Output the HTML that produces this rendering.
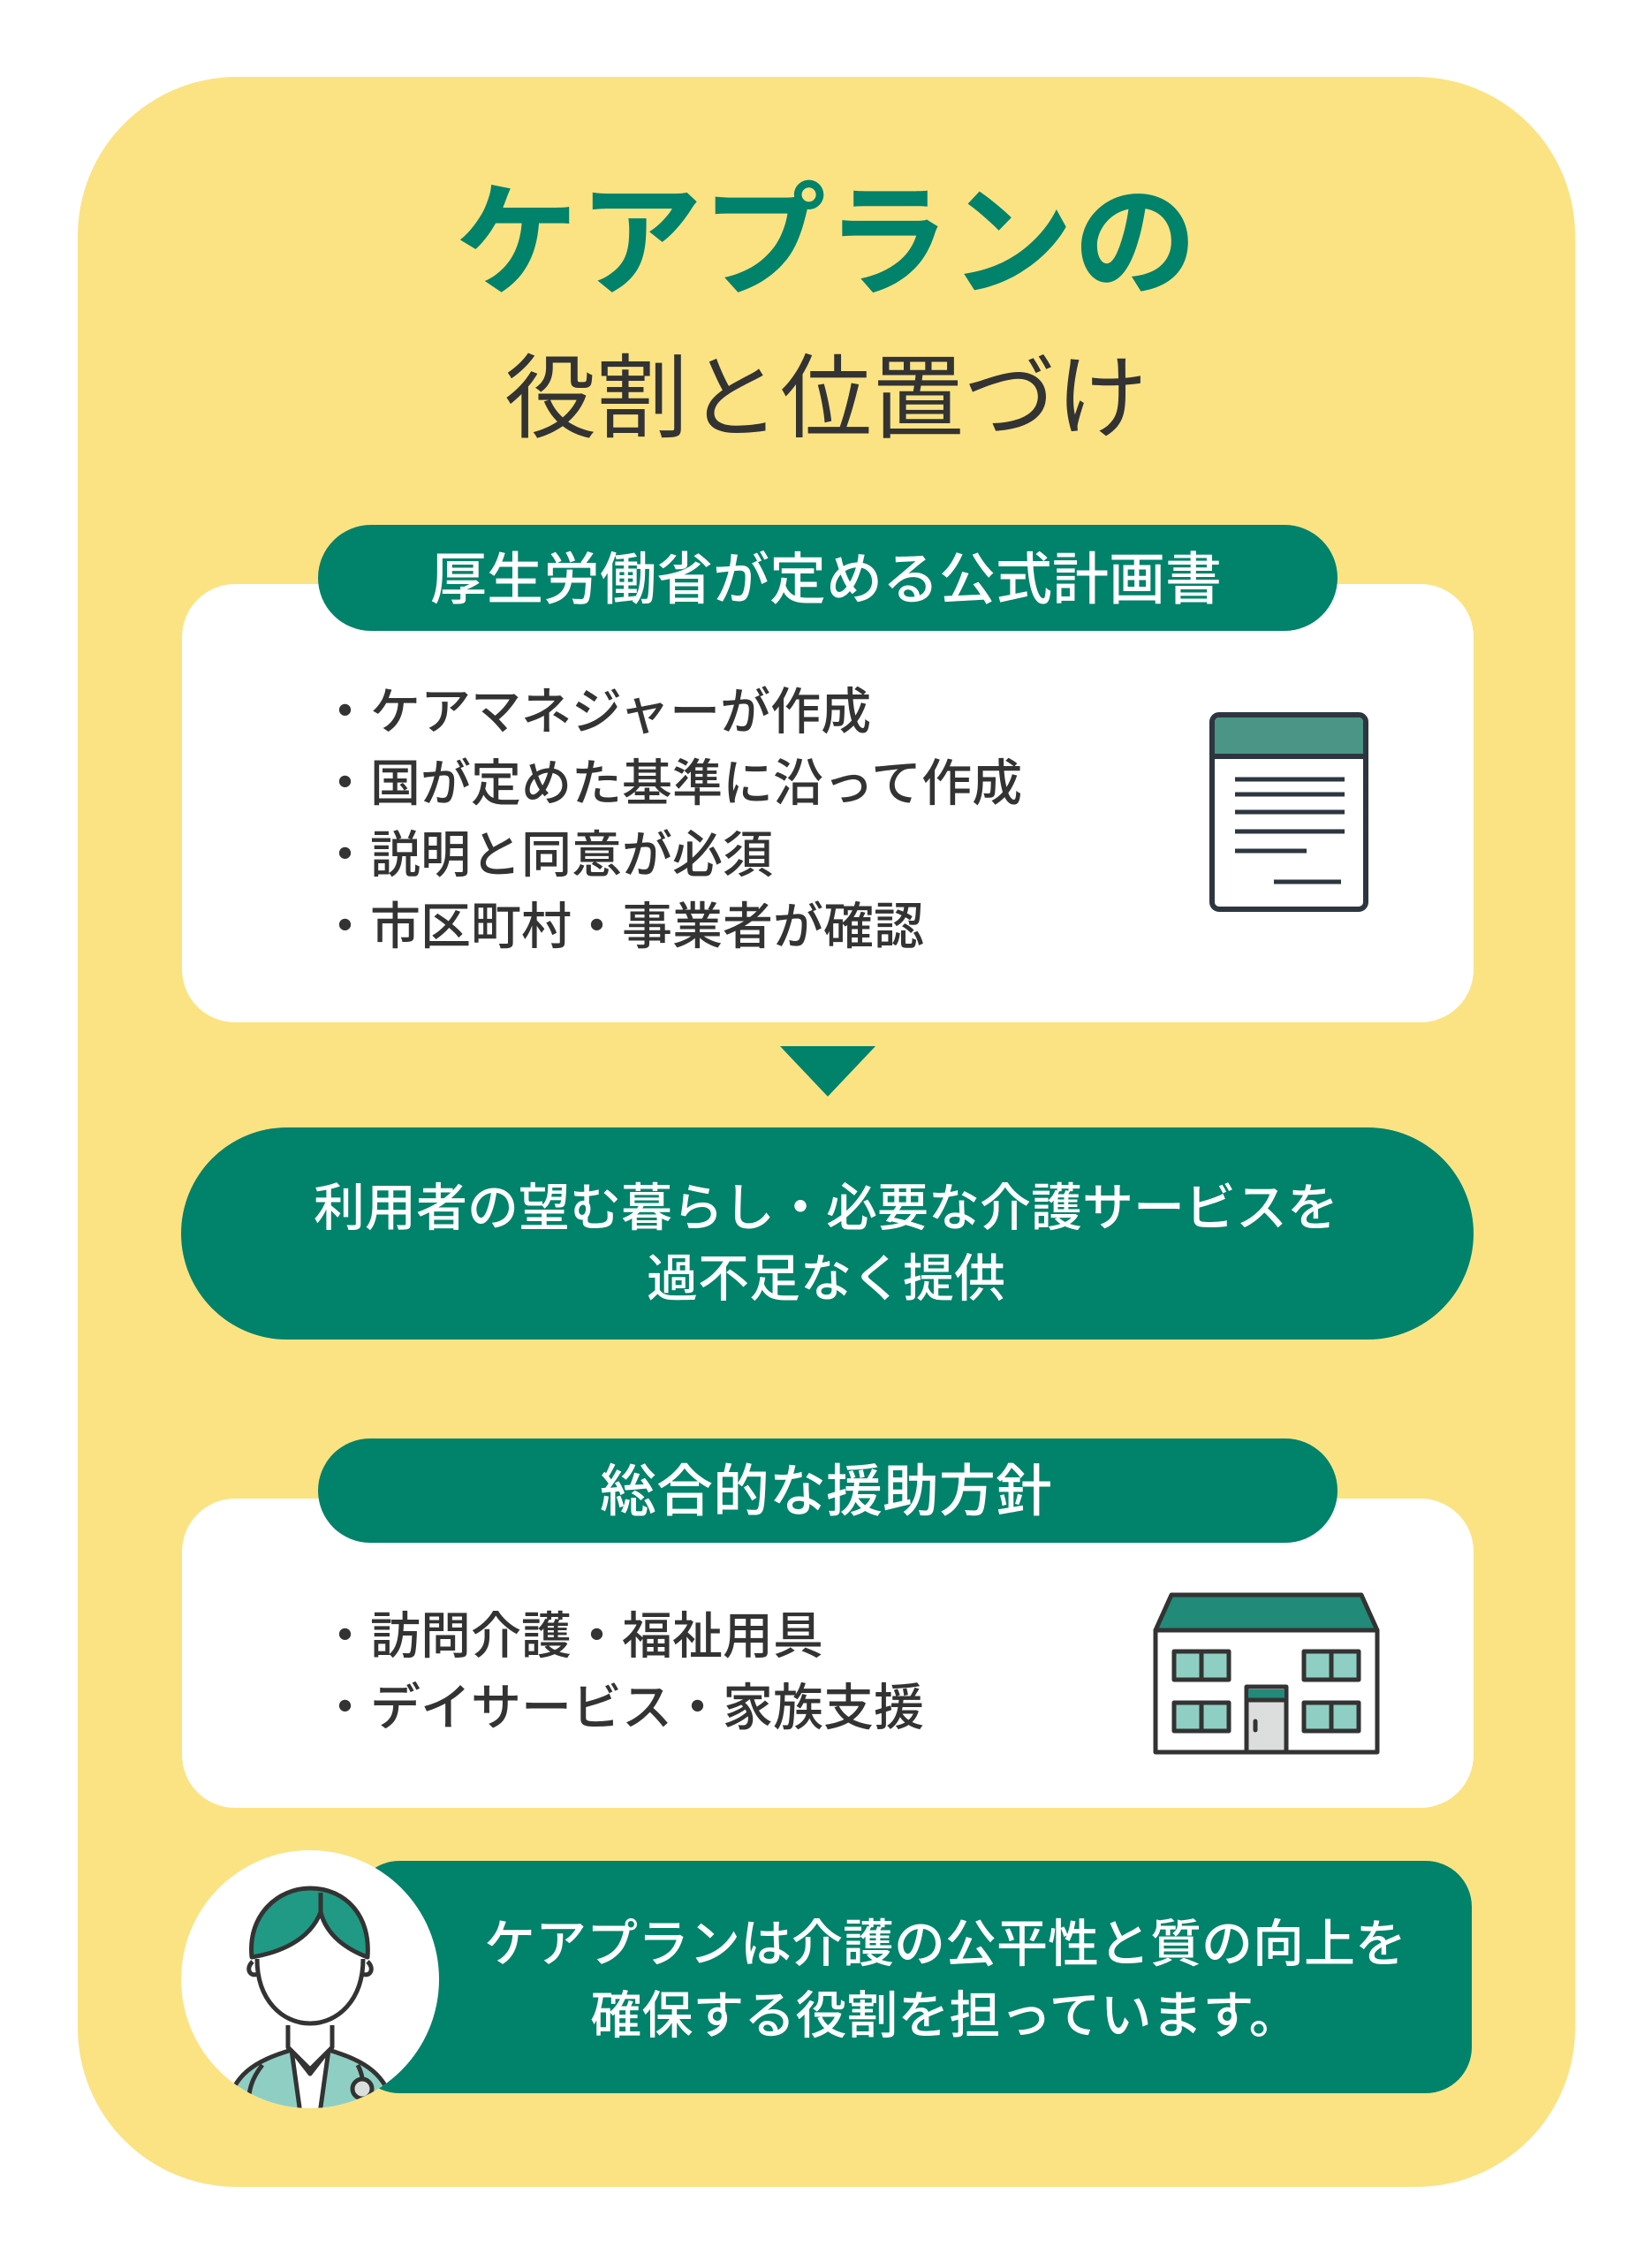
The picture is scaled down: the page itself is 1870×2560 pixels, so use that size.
<!DOCTYPE html>
<html><head><meta charset="utf-8"><style>
html,body{margin:0;padding:0;background:#fff;}
body{width:1870px;height:2560px;position:relative;overflow:hidden;font-family:"Liberation Sans","Noto Sans CJK JP",sans-serif;}
.a{position:absolute;}
.t{position:absolute;left:0;width:1870px;text-align:center;white-space:nowrap;}
</style></head><body>
<div class="a" style="left:88px;top:87px;width:1695px;height:2388px;background:#fbe383;border-radius:180px;"></div>
<div class="t" style="top:190px;font-size:140px;font-weight:700;color:#00826b;line-height:170px;">ケアプランの</div>
<div class="t" style="top:392px;font-size:104px;color:#333;line-height:120px;">役割と位置づけ</div>

<div class="a" style="left:206px;top:661px;width:1462px;height:496px;background:#fff;border-radius:60px;"></div>
<div class="a" style="left:360px;top:594px;width:1154px;height:120px;background:#00826b;border-radius:60px;"></div>
<div class="t" style="top:616px;font-size:64px;font-weight:500;color:#fff;line-height:80px;">厚生労働省が定める公式計画書</div>
<div class="a" style="left:362px;top:766px;font-size:57px;font-weight:500;color:#333;line-height:81px;white-space:nowrap;">・ケアマネジャーが作成<br>・国が定めた基準に沿って作成<br>・説明と同意が必須<br>・市区町村・事業者が確認</div>

<div class="a" style="left:205px;top:1276px;width:1463px;height:240px;background:#00826b;border-radius:120px;"></div>
<div class="t" style="top:1328px;font-size:58px;font-weight:500;color:#fff;line-height:80px;">利用者の望む暮らし・必要な介護サービスを<br>過不足なく提供</div>

<div class="a" style="left:206px;top:1696px;width:1462px;height:350px;background:#fff;border-radius:60px;"></div>
<div class="a" style="left:360px;top:1628px;width:1154px;height:118px;background:#00826b;border-radius:59px;"></div>
<div class="t" style="top:1648px;font-size:64px;font-weight:500;color:#fff;line-height:80px;">総合的な援助方針</div>
<div class="a" style="left:362px;top:1812px;font-size:57px;font-weight:500;color:#333;line-height:81px;white-space:nowrap;">・訪問介護・福祉用具<br>・デイサービス・家族支援</div>

<div class="a" style="left:400px;top:2106px;width:1266px;height:263px;background:#00826b;border-radius:52px;"></div>
<div class="a" style="left:500px;top:2160px;width:1140px;text-align:center;font-size:58px;font-weight:500;color:#fff;line-height:81px;white-space:nowrap;">ケアプランは介護の公平性と質の向上を<br>確保する役割を担っています。</div>

<svg class="a" style="left:0;top:0" width="1870" height="2560" viewBox="0 0 1870 2560">
<defs><clipPath id="cc"><circle cx="351" cy="2240" r="146"/></clipPath></defs>
<polygon points="883,1184 991,1184 937,1241" fill="#00826b"/>
<rect x="1372" y="809" width="174" height="220" rx="8" fill="#fff" stroke="#2d3640" stroke-width="6"/>
<path d="M1375,854 V817 a5,5 0 0 1 5,-5 H1538 a5,5 0 0 1 5,5 V854 Z" fill="#4a9585"/>
<line x1="1372" y1="856" x2="1546" y2="856" stroke="#2d3640" stroke-width="6"/>
<g stroke="#2d3640" stroke-width="5">
<line x1="1398" y1="882" x2="1522" y2="882"/><line x1="1398" y1="899" x2="1522" y2="899"/>
<line x1="1398" y1="919" x2="1522" y2="919"/><line x1="1398" y1="941" x2="1522" y2="941"/>
<line x1="1398" y1="963" x2="1479" y2="963"/><line x1="1442" y1="998" x2="1518" y2="998"/>
</g>
<g stroke="#333" stroke-width="5" stroke-linejoin="round">
<polygon points="1326,1805 1541,1805 1559,1845 1308,1845" fill="#228a78"/>
<rect x="1308" y="1845" width="251" height="138" fill="#fff"/>
<g fill="#8fcfc3">
<rect x="1329" y="1869" width="62" height="32"/><rect x="1476" y="1869" width="62" height="32"/>
<rect x="1329" y="1927" width="62" height="32"/><rect x="1476" y="1927" width="62" height="32"/>
</g>
<line x1="1360" y1="1869" x2="1360" y2="1901"/><line x1="1507" y1="1869" x2="1507" y2="1901"/>
<line x1="1360" y1="1927" x2="1360" y2="1959"/><line x1="1507" y1="1927" x2="1507" y2="1959"/>
<rect x="1411" y="1909" width="45" height="74" fill="#dcdedd"/>
<rect x="1413" y="1912" width="41" height="10" fill="#228a78" stroke="none"/>
<line x1="1411" y1="1924" x2="1456" y2="1924"/>
<line x1="1421" y1="1948" x2="1421" y2="1958" stroke-linecap="round"/>
</g>
<circle cx="351" cy="2240" r="146" fill="#fff"/>
<g clip-path="url(#cc)" stroke="#333" stroke-width="5" stroke-linejoin="round">
<path d="M255,2392 C262,2347 290,2332 330,2320 L372,2320 C412,2332 440,2347 447,2392 Z" fill="#8fcfc3"/>
<path d="M330,2320 L351,2347 L372,2320 L362,2392 L340,2392 Z" fill="#fff"/>
<path d="M326,2292 L326,2317 L351,2342 L376,2317 L376,2292" fill="#fff"/>
<path d="M297,2337 C285,2352 280,2367 282,2387" fill="none"/>
<path d="M405,2337 C410,2347 412,2357 410,2367" fill="none"/>
<circle cx="410" cy="2364" r="11" fill="#dcdedd"/>
<path d="M291,2217 C291,2264 320,2290 351,2290 C382,2290 411,2264 411,2217" fill="#fff"/>
<path d="M286,2220 C278,2227 282,2238 292,2234 M416,2220 C424,2227 420,2238 410,2234" fill="none"/>
<path d="M285,2215 C280,2167 315,2137 351,2137 C390,2137 420,2167 416,2215 C395,2207 370,2192 363,2164 C350,2197 315,2210 285,2215 Z" fill="#219a85"/>
<path d="M363,2142 L363,2164" fill="none"/>
</g>
</svg>
</body></html>
